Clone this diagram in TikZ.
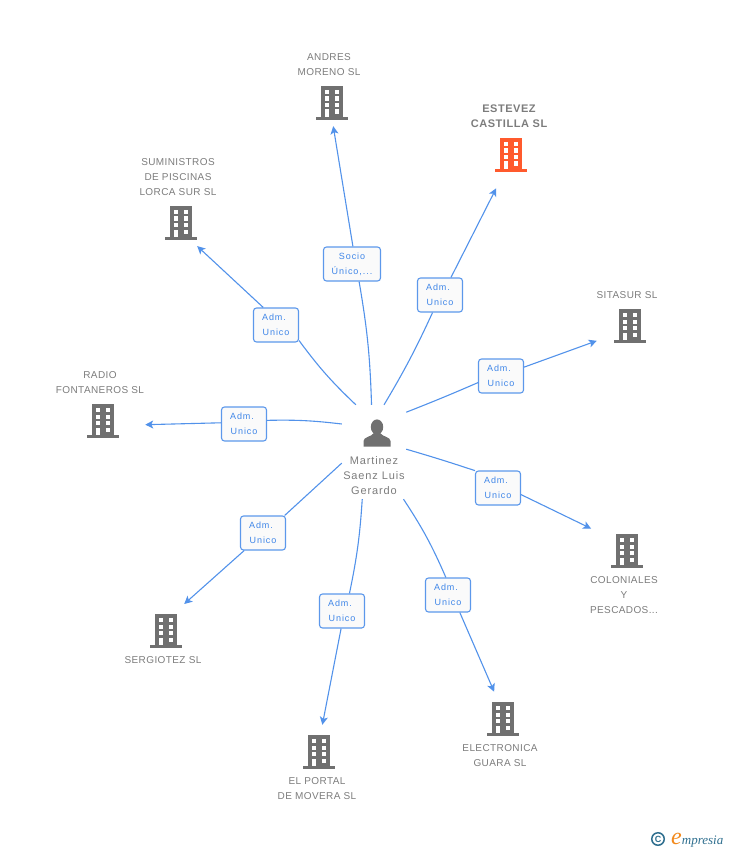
\documentclass[tikz,border=0pt]{standalone}
\usepackage{fontspec}
\setmainfont{Liberation Sans}
\newfontfamily\lblfont[LetterSpace=4]{Liberation Sans}
\newfontfamily\boldfont[LetterSpace=5]{Liberation Sans}
\newfontfamily\whofont[LetterSpace=8]{Liberation Sans}
\newfontfamily\boxfont[LetterSpace=11]{Liberation Sans}
\newfontfamily\logofont{Liberation Serif}
\usetikzlibrary{arrows.meta}
\definecolor{edgeblue}{HTML}{3F86E8}
\definecolor{bldgray}{HTML}{707070}
\definecolor{txtgray}{HTML}{7C7C7C}
\definecolor{bldorange}{HTML}{FF5A2D}
\definecolor{logoteal}{HTML}{2F6F8F}
\definecolor{logoorange}{HTML}{F28A1E}
\newcommand{\admrole}{Adm.\kern4pt\\Unico}
\tikzset{
	lbl/.style={font=\lblfont\fontsize{10}{15}\selectfont,text=txtgray,align=center,inner sep=0pt},
	role/.style={draw=edgeblue!85,line width=1.1pt,rounded corners=3pt,fill=black!2,text=edgeblue,
		font=\boxfont\fontsize{9}{15}\selectfont,align=center,inner sep=0pt,minimum height=34pt,minimum width=45pt},
	bld/.style={circle,inner sep=0pt,minimum size=#1},
	link/.style={edgeblue!90,line width=1.1pt},
	arr/.style={link,-{Stealth[length=8pt,width=8pt,inset=2pt]}},
	pics/building/.style={code={
		\fill[#1] (-11,-17) rectangle (11,14);
		\fill[#1] (-16,14) rectangle (16,17);
		\foreach \yy in {-13,-6.5,0}{
			\fill[white] (-7,\yy) rectangle (-2.7,\yy+4.3);
			\fill[white] (2.7,\yy) rectangle (7,\yy+4.3);
		}
		\fill[white] (-7,6.5) rectangle (-2.7,14);
		\fill[white] (2.7,6.5) rectangle (7,10.8);
	}},
	pics/human/.style={code={
		\fill[#1] (0,-6) ellipse (6.2 and 7.6);
		\fill[#1] (-13.5,13.5) -- (-13.5,8) .. controls (-13.5,4) and (-6,4) .. (-3,0) -- (3,0)
			.. controls (6,4) and (13.5,4) .. (13.5,8) -- (13.5,13.5) -- cycle;
	}},
}
\begin{document}
\begin{tikzpicture}[x=1pt,y=-1pt]
	\useasboundingbox (0,0) rectangle (728,850);

	% company icons, the radius is where the arrow stops
	\node[bld=46pt]   (bAndres) at (332,103) {};
	\node[bld=72.4pt] (bEstevez) at (511,155) {};
	\node[bld=56pt]   (bSuministros) at (181,223) {};
	\node[bld=72.4pt] (bSitasur) at (630,326) {};
	\node[bld=84.4pt] (bRadio) at (103,421) {};
	\node[bld=84.4pt] (bColoniales) at (627,551) {};
	\node[bld=64.8pt] (bSergiotez) at (166,631) {};
	\node[bld=57pt]   (bElectronica) at (503,719) {};
	\node[bld=54.4pt] (bPortal) at (319,752) {};
	\pic at (bAndres) {building=bldgray};
	\pic at (bEstevez) {building=bldorange};
	\pic at (bSuministros) {building=bldgray};
	\pic at (bSitasur) {building=bldgray};
	\pic at (bRadio) {building=bldgray};
	\pic at (bColoniales) {building=bldgray};
	\pic at (bSergiotez) {building=bldgray};
	\pic at (bElectronica) {building=bldgray};
	\pic at (bPortal) {building=bldgray};

	\node[lbl] (lAndres) at (329,64.5) {ANDRES\\MORENO SL};
	\node[lbl,font=\boldfont\bfseries\fontsize{11}{15}\selectfont] (lEstevez) at (509,116.5) {ESTEVEZ\\CASTILLA SL};
	\node[lbl] (lSuministros) at (178,177) {SUMINISTROS\\DE PISCINAS\\LORCA SUR SL};
	\node[lbl] (lSitasur) at (627,295) {SITASUR SL};
	\node[lbl] (lRadio) at (100,382.5) {RADIO\\FONTANEROS SL};
	\node[lbl] (lColoniales) at (624,595) {COLONIALES\\Y\\PESCADOS...};
	\node[lbl] (lSergiotez) at (163,660) {SERGIOTEZ SL};
	\node[lbl] (lElectronica) at (500,755.5) {ELECTRONICA\\GUARA SL};
	\node[lbl] (lPortal) at (317,788.5) {EL PORTAL\\DE MOVERA SL};

	% person, the box is where the lines start
	\node[minimum width=64pt,minimum height=94pt,inner sep=0pt] (person) at (374,452) {};
	\pic at (377,433) {human=bldgray};
	\node[lbl,font=\whofont\fontsize{11}{15}\selectfont] (lPerson) at (374,476) {Martinez\\Saenz Luis\\Gerardo};

	\node[role,minimum width=57pt] (rAndres) at (352,264) {Socio\\Único,...};
	\node[role] (rEstevez) at (440,295) {\admrole};
	\node[role] (rSuministros) at (276,325) {\admrole};
	\node[role] (rSitasur) at (501,376) {\admrole};
	\node[role] (rRadio) at (244,424) {\admrole};
	\node[role] (rColoniales) at (498,488) {\admrole};
	\node[role] (rSergiotez) at (263,533) {\admrole};
	\node[role] (rElectronica) at (448,595) {\admrole};
	\node[role] (rPortal) at (342,611) {\admrole};

	\draw[link] (person.93.65) to[bend right=4] (rAndres.-68.7);
	\draw[link] (person.78) to[bend right=3] (rEstevez.-113.5);
	\draw[link] (person.111) to[bend left=5] (rSuministros.-34);
	\draw[link] (person.51.3) to[bend right=1] (rSitasur.196.9);
	\draw[link] (person.139.8) to[bend right=4] (rRadio.9.3);
	\draw[link] (person.5.4) to[bend left=1] (rColoniales.143.6);
	\draw[link] (person.199) to (rSergiotez.39);
	\draw[link] (person.-58.3) to[bend left=5] (rElectronica.97.4);
	\draw[link] (person.-104.3) to[bend left=4] (rPortal.67.3);

	\draw[arr] (rAndres.87.6) -- (bAndres.-87.5);
	\draw[arr] (rEstevez.58.3) -- (bEstevez.-114.4);
	\draw[arr] (rSuministros.126) -- (bSuministros.-55.2);
	\draw[arr] (rSitasur.21) -- (bSitasur.204.4);
	\draw[arr] (rRadio.177.5) -- (bRadio.-5.4);
	\draw[arr] (rColoniales.-16.5) -- (bColoniales.148.6);
	\draw[arr] (rSergiotez.223) -- (bSergiotez.56.3);
	\draw[arr] (rElectronica.-56.4) -- (bElectronica.108.4);
	\draw[arr] (rPortal.-93) -- (bPortal.83.7);

	% logo
	\node[circle,draw=logoteal,line width=1.5pt,inner sep=0pt,minimum size=12.5pt,text=logoteal,font=\bfseries\fontsize{9}{9}\selectfont] (logoC) at (658,839) {C};
	\node[anchor=base west,inner sep=0pt,text=logoteal,font=\logofont\itshape\fontsize{13}{13}\selectfont] (logoT) at (671,844) {\textcolor{logoorange}{\fontsize{24}{24}\selectfont e}mpresia};
\end{tikzpicture}
\end{document}
